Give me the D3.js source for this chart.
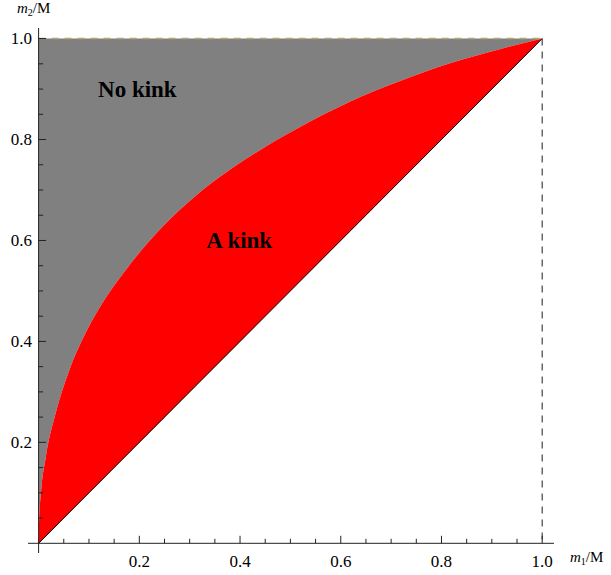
<!DOCTYPE html>
<html>
<head>
<meta charset="utf-8">
<script src="https://cdn.jsdelivr.net/npm/d3@7"></script>
<style>
  html, body { margin: 0; padding: 0; background: #fff; }
</style>
</head>
<body>
<svg id="chart" width="611" height="575"></svg>
<script>
// Boundary between the "no kink" and "kink" regions, m2/M as a function of m1/M
const boundaryM1 = [0.000, 0.001, 0.0046, 0.0145, 0.034, 0.061, 0.094, 0.128, 0.157, 0.181, 0.247, 0.314, 0.433, 0.519, 0.618, 0.718, 0.817, 0.916, 1.000];
const boundaryM2 = [0.000, 0.045, 0.099, 0.172, 0.258, 0.343, 0.418, 0.478, 0.520, 0.552, 0.628, 0.690, 0.775, 0.825, 0.875, 0.916, 0.951, 0.979, 1.000];

const majorTicks = [0.2, 0.4, 0.6, 0.8, 1.0];
const tickLabels = ["0.2", "0.4", "0.6", "0.8", "1.0"];
const regionLabels = ["No kink", "A kink"];
const regionLabelPos = [[0.118, 0.885], [0.333, 0.585]];

const FONT = "'Liberation Serif'";
const svg = d3.select("#chart");

const x = d3.scaleLinear().domain([0, 1]).range([38.6, 542.2]);
const y = d3.scaleLinear().domain([0, 1]).range([543.3, 38.6]);

const pts = boundaryM1.map((m1, i) => ({ m1, m2: boundaryM2[i] }));

// grey region: between the boundary and m2 = 1
const greyArea = d3.area()
  .x(d => x(d.m1))
  .y0(() => y(1))
  .y1(d => y(d.m2))
  .curve(d3.curveMonotoneX);

// red region: between the diagonal m2 = m1 and the boundary
const redArea = d3.area()
  .x(d => x(d.m1))
  .y0(d => y(d.m1))
  .y1(d => y(d.m2))
  .curve(d3.curveMonotoneX);

svg.append("path").datum(pts).attr("d", greyArea).attr("fill", "#808080");
svg.append("path").datum(pts).attr("d", redArea).attr("fill", "#ff0000");

// diagonal m2 = m1
svg.append("line")
  .attr("x1", x(0)).attr("y1", y(0))
  .attr("x2", x(1)).attr("y2", y(1))
  .attr("stroke", "#000").attr("stroke-width", 1);

// dashed limits m2 = 1 and m1 = 1
svg.append("line")
  .attr("x1", x(0)).attr("y1", y(1))
  .attr("x2", x(1)).attr("y2", y(1))
  .attr("stroke", "#b3a46c").attr("stroke-width", 1.5)
  .attr("stroke-dasharray", "7,6");
svg.append("line")
  .attr("x1", x(1)).attr("y1", y(1))
  .attr("x2", x(1)).attr("y2", y(0))
  .attr("stroke", "#444").attr("stroke-width", 1.2)
  .attr("stroke-dasharray", "7,6");

// axes (extending slightly past the plot range)
const axisG = svg.append("g").attr("stroke", "#222").attr("stroke-width", 1);
axisG.append("line").attr("x1", 28).attr("x2", 554).attr("y1", y(0)).attr("y2", y(0));
axisG.append("line").attr("x1", x(0)).attr("x2", x(0)).attr("y1", 28).attr("y2", 553);

const minorTicks = x.ticks(20).filter(t => t > 0);
const isMajor = d => majorTicks.some(m => Math.abs(m - d) < 1e-9);
// x ticks (pointing up into the plot)
axisG.selectAll(".xt").data(minorTicks).join("line")
  .attr("x1", d => x(d)).attr("x2", d => x(d))
  .attr("y1", y(0))
  .attr("y2", d => y(0) - (isMajor(d) ? 7.5 : 4.5));
// y ticks (pointing right into the plot)
axisG.selectAll(".yt").data(minorTicks).join("line")
  .attr("y1", d => y(d)).attr("y2", d => y(d))
  .attr("x1", x(0))
  .attr("x2", d => x(0) + (isMajor(d) ? 7.5 : 4.5));

// tick labels
svg.selectAll(".xl").data(majorTicks).join("text")
  .attr("x", d => x(d)).attr("y", 567)
  .attr("text-anchor", "middle").attr("font-size", 17).attr("fill", "#000")
  .style("font-family", FONT)
  .text((d, i) => tickLabels[i]);
svg.selectAll(".yl").data(majorTicks).join("text")
  .attr("x", 32).attr("y", d => y(d) + 5.5)
  .attr("text-anchor", "end").attr("font-size", 17).attr("fill", "#000")
  .style("font-family", FONT)
  .text((d, i) => tickLabels[i]);

// axis titles
function axisTitle(px, py, sub) {
  const t = svg.append("text").attr("x", px).attr("y", py)
    .attr("font-size", 15).attr("fill", "#000").style("font-family", FONT);
  t.append("tspan").attr("font-style", "italic").text("m");
  t.append("tspan").attr("font-size", 10).attr("dy", 3).text(sub);
  t.append("tspan").attr("dy", -3).text("/M");
}
axisTitle(17, 13, "2");
axisTitle(570, 562, "1");

// region labels
svg.selectAll(".rl").data(regionLabels).join("text")
  .attr("x", (d, i) => x(regionLabelPos[i][0]))
  .attr("y", (d, i) => y(regionLabelPos[i][1]))
  .attr("font-size", 23).attr("font-weight", "bold").attr("fill", "#000")
  .style("font-family", FONT)
  .text(d => d);
</script>
</body>
</html>
